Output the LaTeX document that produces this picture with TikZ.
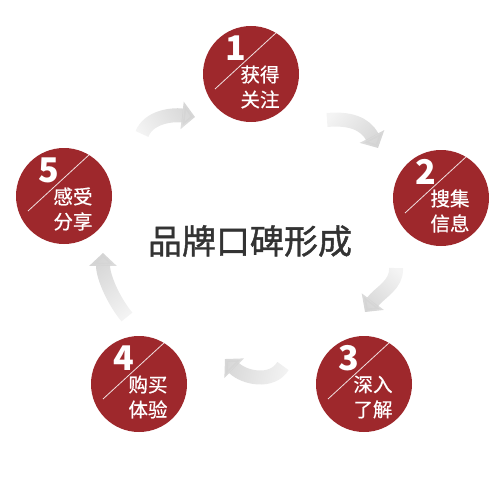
\documentclass[tikz,border=0pt]{standalone}
\usepackage{fontspec}
\setmainfont{Noto Sans CJK SC}
\newfontfamily\titlefont[FakeBold=1.2]{Noto Sans CJK SC}
\newfontfamily\stepfont[FakeBold=0.6]{Noto Sans CJK SC}
\usepackage{tikz}
\usepackage{xcolor}
\usetikzlibrary{arrows.meta,fadings}

\definecolor{brandred}{RGB}{158,40,44}
\definecolor{titlegray}{RGB}{51,51,51}
\definecolor{flowgray}{RGB}{212,212,212}

\tikzfading[name=flowfade,left color=transparent!75,right color=transparent!0]

\tikzset{
  stepcircle/.style={circle,fill=brandred,minimum size=96pt,inner sep=0pt},
  stepnum/.style={text=white,font=\bfseries\fontsize{34}{34}\selectfont,inner sep=0pt},
  steptext/.style={text=white,font=\stepfont\fontsize{19.5}{25}\selectfont,align=left,inner sep=0pt},
  slash/.style={white,line width=0.8pt,opacity=0.85},
  flow/.style={flowgray,line width=14pt,-{Triangle[length=13pt,width=27pt]},path fading=flowfade}
}

\begin{document}
\begin{tikzpicture}[x=1pt,y=-1pt]
\useasboundingbox (0,0) rectangle (500,500);

\node[stepcircle] (c1) at (251,74) {};
\node[stepcircle] (c2) at (441,198) {};
\node[stepcircle] (c3) at (364,384) {};
\node[stepcircle] (c4) at (139,384) {};
\node[stepcircle] (c5) at (64,196) {};

\draw[slash] ([shift={(-36,15)}]c1.center) -- ([shift={(26,-42)}]c1.center);
\draw[slash] ([shift={(-36,15)}]c2.center) -- ([shift={(26,-42)}]c2.center);
\draw[slash] ([shift={(-36,15)}]c3.center) -- ([shift={(26,-42)}]c3.center);
\draw[slash] ([shift={(-36,15)}]c4.center) -- ([shift={(26,-42)}]c4.center);
\draw[slash] ([shift={(-36,15)}]c5.center) -- ([shift={(26,-42)}]c5.center);

\node[stepnum] (n1) at ([shift={(-15,-26)}]c1.center) {1};
\node[stepnum] (n2) at ([shift={(-15,-26)}]c2.center) {2};
\node[stepnum] (n3) at ([shift={(-15,-26)}]c3.center) {3};
\node[stepnum] (n4) at ([shift={(-15,-26)}]c4.center) {4};
\node[stepnum] (n5) at ([shift={(-15,-26)}]c5.center) {5};

\node[steptext] (s1) at ([shift={(9,13)}]c1.center) {获得\\关注};
\node[steptext] (s2) at ([shift={(9,13)}]c2.center) {搜集\\信息};
\node[steptext] (s3) at ([shift={(9,13)}]c3.center) {深入\\了解};
\node[steptext] (s4) at ([shift={(9,13)}]c4.center) {购买\\体验};
\node[steptext] (s5) at ([shift={(9,13)}]c5.center) {感受\\分享};

\node[text=titlegray,font=\titlefont\fontsize{34}{34}\selectfont] (title) at (250,241) {品牌口碑形成};

% curved arrows between the steps
\coordinate (t12) at (327,120); \coordinate (h12) at (378,148);
\coordinate (t23) at (396,268); \coordinate (h23) at (365,312);
\coordinate (t34) at (283,366); \coordinate (h34) at (225,359);
\coordinate (t45) at (127,317); \coordinate (h45) at (103,253);
\coordinate (t51) at (142,134); \coordinate (h51) at (195,117);

\draw[flow,fading angle=-29] (t12) .. controls (349,118) and (365,123) .. (h12);
\draw[flow,fading angle=-125] (t23) .. controls (397,285) and (380,292) .. (h23);
\draw[flow,fading angle=173] (t34) .. controls (272,384) and (244,378) .. (h34);
\draw[flow,fading angle=111] (t45) .. controls (115,303) and (103,278) .. (h45);
\draw[flow,fading angle=18] (t51) .. controls (148,118) and (170,114) .. (h51);
\end{tikzpicture}
\end{document}
